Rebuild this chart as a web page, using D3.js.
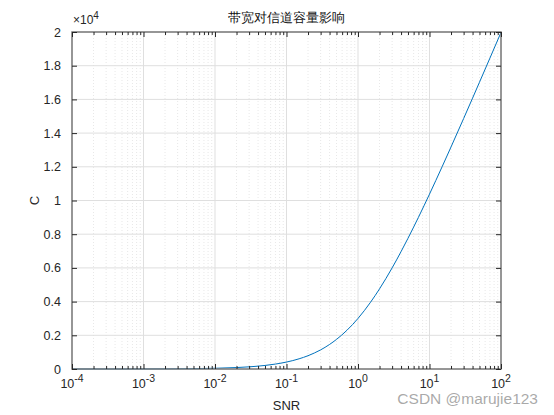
<!DOCTYPE html>
<html><head><meta charset="utf-8">
<script src="https://cdn.jsdelivr.net/npm/d3@7"></script>
<style>body{margin:0;background:#fff}svg{display:block}text{font-family:"Liberation Sans",Arial,sans-serif}</style>
</head><body><svg id="c" width="554" height="415"></svg>
<script>
// Data
const snr = [0.0001,0.0002,0.0005,0.001,0.002,0.005,0.01,0.02,0.03,0.05,0.07,0.1,0.15,0.2,0.3,0.4,0.5,0.7,1,1.5,2,3,4,5,7,10,15,20,30,40,50,70,100];
const cap = [0.43,0.87,2.2,4.3,8.7,22,43,86,128,211,293,412,605,789,1135,1456,1755,2297,3000,3966,4755,6000,6966,7755,9000,10378,12000,13177,14863,16073,17017,18451,19975];
const xTicks = [1e-4,1e-3,1e-2,1e-1,1e0,1e1,1e2];
const xExp = ["-4","-3","-2","-1","0","1","2"];
const yTicks = [0,0.2,0.4,0.6,0.8,1,1.2,1.4,1.6,1.8,2];
const title = "带宽对信道容量影响";

const svg = d3.select("#c");
const L=72, R=501, T=32, B=369;
const x = d3.scaleLog().domain([1e-4,1e2]).range([L,R]);
const y = d3.scaleLinear().domain([0,2e4]).range([B,T]);

// minor x positions
const minor = [];
for (let e=-4;e<2;e++) for (let k=2;k<=9;k++) minor.push(k*Math.pow(10,e));

const g = svg.append("g");
// minor grid
g.selectAll(".mg").data(minor).enter().append("line")
 .attr("x1",d=>x(d)).attr("x2",d=>x(d)).attr("y1",T).attr("y2",B)
 .attr("stroke","#d6d6d6").attr("stroke-width",0.6).attr("stroke-dasharray","1,2");
// major grid
g.selectAll(".xg").data(xTicks).enter().append("line")
 .attr("x1",d=>x(d)).attr("x2",d=>x(d)).attr("y1",T).attr("y2",B)
 .attr("stroke","#dfdfdf").attr("stroke-width",1);
g.selectAll(".yg").data(yTicks).enter().append("line")
 .attr("x1",L).attr("x2",R).attr("y1",d=>y(d*1e4)).attr("y2",d=>y(d*1e4))
 .attr("stroke","#dfdfdf").attr("stroke-width",1);

// curve
svg.append("path").datum(snr.map((s,i)=>[s,cap[i]]))
 .attr("fill","none").attr("stroke","#0072BD").attr("stroke-width",1)
 .attr("d",d3.line().x(d=>x(d[0])).y(d=>y(d[1])).curve(d3.curveMonotoneX));

// box
svg.append("rect").attr("x",L).attr("y",T).attr("width",R-L).attr("height",B-T)
 .attr("fill","none").attr("stroke","#7a7a7a").attr("stroke-width",1.5);

// axes via d3
const xb = svg.append("g").attr("transform",`translate(0,${B})`)
 .call(d3.axisBottom(x).tickValues(xTicks).tickSize(-5).tickFormat(()=>""));
const xbm = svg.append("g").attr("transform",`translate(0,${B})`)
 .call(d3.axisBottom(x).tickValues(minor).tickSize(-3).tickFormat(()=>""));
const xt = svg.append("g").attr("transform",`translate(0,${T})`)
 .call(d3.axisTop(x).tickValues(xTicks).tickSize(-5).tickFormat(()=>""));
const xtm = svg.append("g").attr("transform",`translate(0,${T})`)
 .call(d3.axisTop(x).tickValues(minor).tickSize(-3).tickFormat(()=>""));
const yl = svg.append("g").attr("transform",`translate(${L},0)`)
 .call(d3.axisLeft(y).tickValues(yTicks.map(v=>v*1e4)).tickSize(-5).tickPadding(11).tickFormat(d=>d3.format("")(+(d/1e4).toFixed(1))));
const yr = svg.append("g").attr("transform",`translate(${R},0)`)
 .call(d3.axisRight(y).tickValues(yTicks.map(v=>v*1e4)).tickSize(-5).tickFormat(()=>""));
[xb,xbm,xt,xtm,yl,yr].forEach(a=>{a.select(".domain").remove();a.selectAll("line").attr("stroke","#262626").attr("stroke-width",1);});
yl.selectAll("text").attr("font-size",12.5).attr("fill","#262626").attr("font-family","Liberation Sans, Arial");

// x tick labels with superscripts
const xl = svg.append("g");
xTicks.forEach((t,i)=>{
  const tx = xl.append("text").attr("x",x(t)).attr("y",B+19).attr("text-anchor","middle").attr("font-size",12.5).attr("fill","#262626");
  tx.append("tspan").text("10");
  tx.append("tspan").attr("dy",-6).attr("font-size",10.5).text(xExp[i]);
});

// exponent label
const ex = svg.append("text").attr("x",L+1).attr("y",T-8).attr("font-size",12).attr("fill","#262626");
ex.append("tspan").text("×10");
ex.append("tspan").attr("dy",-5).attr("font-size",10).text("4");

// title & labels
svg.append("text").attr("x",(L+R)/2).attr("y",22).attr("text-anchor","middle").attr("font-size",12.5)
 .attr("font-family","Noto Sans CJK SC, sans-serif").attr("fill","#111").text(title);
svg.append("text").attr("x",(L+R)/2).attr("y",410).attr("text-anchor","middle").attr("font-size",13).attr("fill","#262626").text("SNR");
svg.append("text").attr("transform",`translate(39,${(T+B)/2}) rotate(-90)`).attr("text-anchor","middle").attr("font-size",13).attr("fill","#262626").text("C");

// watermark
svg.append("text").attr("x",538).attr("y",404).attr("text-anchor","end").attr("font-size",15.5).attr("fill","#9a9a9a").attr("fill-opacity",0.85).text("CSDN @marujie123");
</script></body></html>
